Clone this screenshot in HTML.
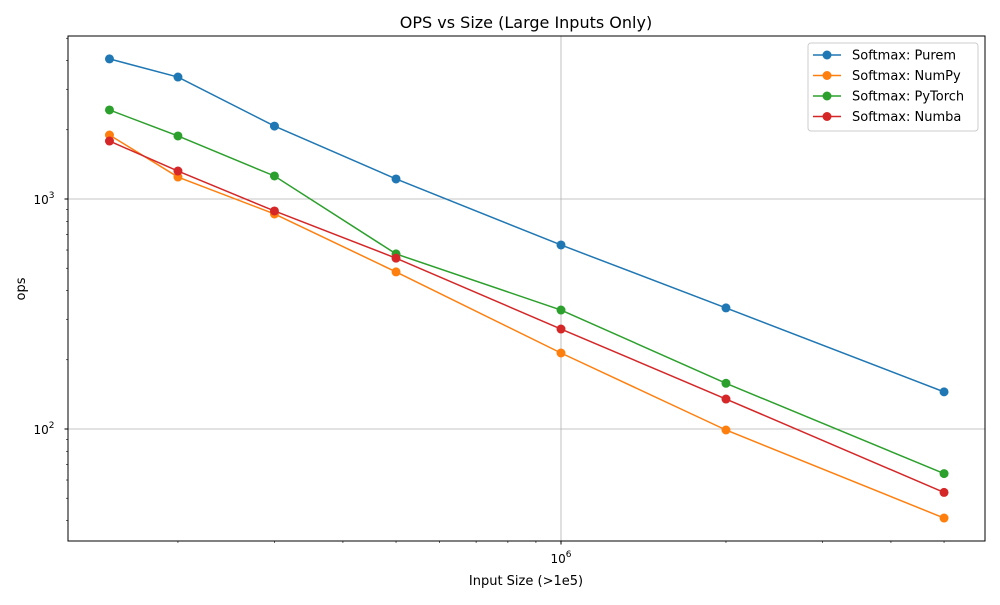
<!DOCTYPE html>
<html><head><meta charset="utf-8"><style>
body{margin:0;background:#fff;font-family:"Liberation Sans","DejaVu Sans",sans-serif;}
text{font-family:"DejaVu Sans","Liberation Sans",sans-serif;}
</style></head><body>
<svg id="chart" width="1000" height="600" xmlns="http://www.w3.org/2000/svg">
<rect width="1000" height="600" fill="#fff"/>
<text x="526" y="28" font-size="16" text-anchor="middle">OPS vs Size (Large Inputs Only)</text>
<text x="526" y="585" font-size="13" text-anchor="middle">Input Size (&gt;1e5)</text>
<text x="25" y="289" font-size="13" text-anchor="middle" transform="rotate(-90 25 289)">ops</text>
<g id="grid"></g><g id="ticks"></g><g id="series"></g>
<rect x="68" y="36" width="917" height="505" fill="none" stroke="#000" stroke-width="1"/>
<g id="legend"></g>
</svg>
<script>
const sizes=[150000,200000,300000,500000,1000000,2000000,5000000];
const seriesNames=["Softmax: Purem","Softmax: NumPy","Softmax: PyTorch","Softmax: Numba"];
const purem=[4066,3390,2075,1222,631,336,145];
const numpy=[1897,1246,861,482,214,99,41];
const pytorch=[2438,1880,1259,577,329,158,64];
const numba=[1787,1323,887,553,272,135,53];
const colors=["#1f77b4","#ff7f0e","#2ca02c","#d62728"];
const xMin=5.1004,xMax=6.7737,yMin=1.513,yMax=3.7087;
const L=68,R=985,T=36,B=541;
const X=v=>L+(Math.log10(v)-xMin)/(xMax-xMin)*(R-L);
const Y=v=>B-(Math.log10(v)-yMin)/(yMax-yMin)*(B-T);
const NS="http://www.w3.org/2000/svg";
function mk(t,a,p){const e=document.createElementNS(NS,t);for(const k in a)e.setAttribute(k,a[k]);p.appendChild(e);return e;}
const g=document.getElementById('grid'),tk=document.getElementById('ticks'),sg=document.getElementById('series'),lg=document.getElementById('legend');
for(let d=5;d<=6;d++)for(let m=1;m<10;m++){const v=m*Math.pow(10,d);const lv=Math.log10(v);if(lv<xMin||lv>xMax)continue;const x=X(v);
 if(m===1){const gl=mk('line',{x1:x,x2:x,y1:T,y2:B,stroke:'#b0b0b0','stroke-width':0.8},g);
 
 mk('line',{x1:x,x2:x,y1:B,y2:B+3.5,stroke:'#000'},tk);
 const t=mk('text',{x:x,y:B+22,'font-size':12,'text-anchor':'middle'},tk);t.innerHTML='10<tspan dy="-6" font-size="9">'+d+'</tspan>';
 }
 else mk('line',{x1:x,x2:x,y1:B,y2:B+2,stroke:'#000','stroke-width':0.6},tk);}
for(let d=1;d<=3;d++)for(let m=1;m<10;m++){const v=m*Math.pow(10,d);const lv=Math.log10(v);if(lv<yMin||lv>yMax)continue;const y=Y(v);
 if(m===1){const gl=mk('line',{x1:L,x2:R,y1:y,y2:y,stroke:'#b0b0b0','stroke-width':0.8},g);
 
 mk('line',{x1:L-3.5,x2:L,y1:y,y2:y,stroke:'#000'},tk);
 const t=mk('text',{x:L-24,y:y+5,'font-size':12,'text-anchor':'middle'},tk);t.innerHTML='10<tspan dy="-6" font-size="9">'+d+'</tspan>';
 }
 else mk('line',{x1:L-2,x2:L,y1:y,y2:y,stroke:'#000','stroke-width':0.6},tk);}
[purem,numpy,pytorch,numba].forEach((vals,i)=>{
 const pl=mk('polyline',{points:vals.map((v,j)=>X(sizes[j])+','+Y(v)).join(' '),fill:'none',stroke:colors[i],'stroke-width':1.5},sg);
 
 vals.forEach((v,j)=>{const c=mk('circle',{cx:X(sizes[j]),cy:Y(v),r:4.5,fill:colors[i]},sg);
 });
});
const lb=mk('rect',{x:808,y:43,width:170,height:88,rx:3,fill:'#fff','fill-opacity':0.8,stroke:'#ccc'},lg);

seriesNames.forEach((n,i)=>{const y=55+i*20.5;
 mk('line',{x1:813,x2:841,y1:y,y2:y,stroke:colors[i],'stroke-width':1.5},lg);
 mk('circle',{cx:827,cy:y,r:4.5,fill:colors[i]},lg);
 const t=mk('text',{x:852,y:y+4.5,'font-size':13},lg);t.textContent=n;
 });
</script>
</body></html>
